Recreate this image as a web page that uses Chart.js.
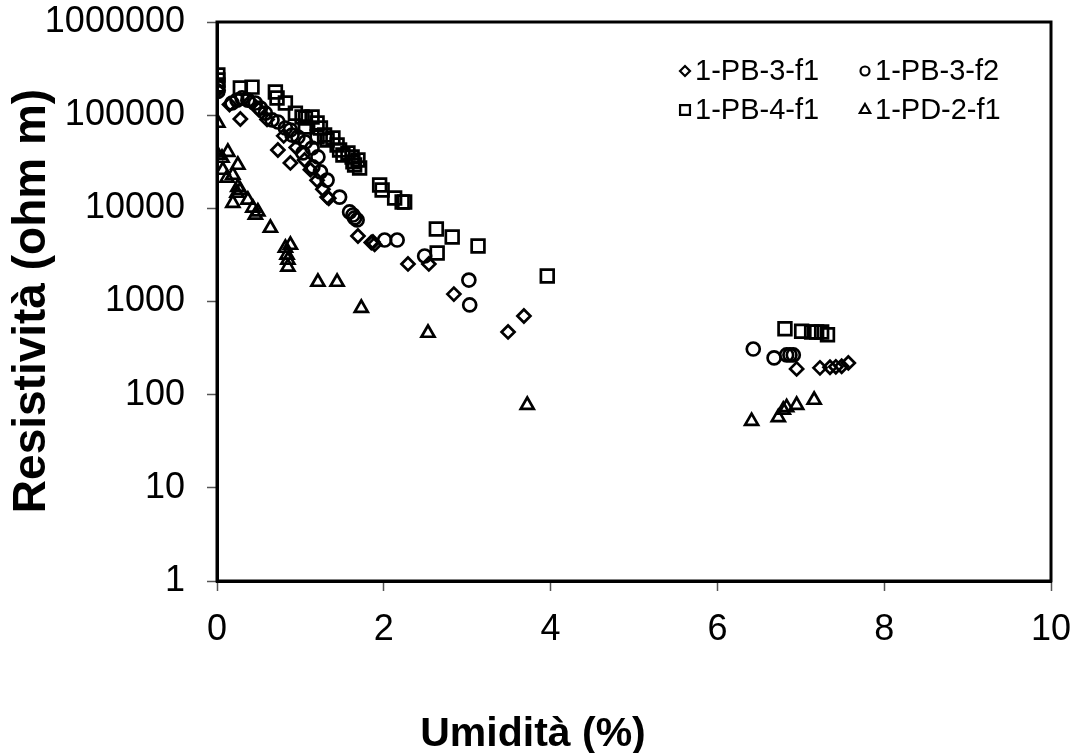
<!DOCTYPE html>
<html>
<head>
<meta charset="utf-8">
<script src="https://cdn.jsdelivr.net/npm/chart.js@4.4.1/dist/chart.umd.min.js"></script>
<style>
  html, body { margin: 0; background: #fff; }
</style>
</head>
<body>
<canvas id="chart" width="1077" height="753"></canvas>
<script>
const font = "'Liberation Sans', Arial, sans-serif";

const seriesNames = ["1-PB-3-f1", "1-PB-3-f2", "1-PB-4-f1", "1-PD-2-f1"];
const yTicks = [1, 10, 100, 1000, 10000, 100000, 1000000];
const xTicks = [0, 2, 4, 6, 8, 10];

// 1-PB-3-f1 (diamonds)
const pb3f1X = [0.01, 0.15, 0.28, 0.40, 0.50, 0.60, 0.73, 0.80, 0.88, 0.95, 1.05, 1.12, 1.20, 1.27, 1.32, 1.34,
  1.69, 1.85, 1.87, 1.89, 2.29, 2.54, 2.84, 3.49, 3.68, 6.95, 7.23, 7.35, 7.42, 7.49, 7.57];
const pb3f1Y = [185000, 130000, 91000, 140000, 115000, 90000, 42300, 60000, 30700, 45000, 33000, 26000, 20000, 16000, 13200, 12800,
  5050, 4300, 4350, 4100, 2530, 2530, 1200, 471, 699, 189, 194, 197, 199, 202, 219];

// 1-PB-3-f2 (circles)
const pb3f2X = [0.01, 0.01, 0.18, 0.24, 0.30, 0.37, 0.46, 0.52, 0.58, 0.66, 0.73, 0.82, 0.88, 0.90, 0.97, 1.06, 1.14, 1.21,
  1.03, 1.15, 1.24, 1.32, 1.47, 1.59, 1.63, 1.65, 1.68, 2.01, 2.16, 2.49, 3.02, 3.03, 6.43, 6.68, 6.83, 6.87, 6.91];
const pb3f2Y = [200000, 180000, 135000, 145000, 153000, 145000, 135000, 119000, 105000, 88800, 84500, 72800, 69300, 61200, 58300, 51500, 44400, 35600,
  39300, 27800, 24600, 20100, 13200, 9140, 8480, 7880, 7500, 4570, 4570, 3080, 1700, 918, 309, 248, 267, 267, 267];

// 1-PB-4-f1 (squares)
const pb4f1X = [0.01, 0.01, 0.01, 0.28, 0.42, 0.70, 0.72, 0.82, 0.94, 1.02, 1.06, 1.14, 1.06, 1.20, 1.24, 1.20, 1.29, 1.32,
  1.39, 1.44, 1.47, 1.51, 1.57, 1.62, 1.63, 1.69, 1.65, 1.71, 1.95, 1.98, 2.13, 2.22, 2.25, 2.63, 2.64, 2.82, 3.13, 3.96,
  6.81, 7.01, 7.13, 7.19, 7.25, 7.32];
const pb4f1Y = [270000, 238000, 211000, 196000, 200000, 177000, 153000, 135000, 105000, 95500, 93000, 95500, 74700, 82400, 72800, 58300, 61200, 54100,
  56900, 47800, 42300, 37400, 39300, 35600, 31500, 33000, 29200, 27100, 17800, 15700, 12900, 11700, 11700, 6000, 3320, 4930, 3940, 1880,
  510, 480, 470, 470, 470, 440];

// 1-PD-2-f1 (triangles)
const pd2f1X = [0.01, 0.01, 0.06, 0.13, 0.25, 0.07, 0.12, 0.19, 0.25, 0.28, 0.24, 0.19, 0.37, 0.43, 0.46, 0.49, 0.64,
  0.88, 0.82, 0.84, 0.85, 0.85, 1.21, 1.44, 1.73, 2.53, 3.72, 6.41, 6.73, 6.79, 6.83, 6.95, 7.16];
const pd2f1Y = [82400, 37400, 34700, 40200, 29200, 25800, 21200, 22800, 16900, 15700, 14600, 11400, 12300, 10100, 8500, 9200, 6150,
  4040, 3750, 3160, 2790, 2350, 1620, 1620, 851, 459, 77.4, 52, 57, 68.5, 73, 77.4, 87.7];

const pts = (xs, ys) => xs.map((x, i) => ({ x, y: ys[i] }));

const styles = [
  { pointStyle: "rectRot", radius: 6.5, legendRadius: 5 },
  { pointStyle: "circle", radius: 6.5, legendRadius: 4.5 },
  { pointStyle: "rect", radius: 9, legendRadius: 7 },
  { pointStyle: "triangle", radius: 7.5, legendRadius: 6 },
];
const allX = [pb3f1X, pb3f2X, pb4f1X, pd2f1X];
const allY = [pb3f1Y, pb3f2Y, pb4f1Y, pd2f1Y];

const datasets = seriesNames.map((name, i) => ({
  label: name,
  data: pts(allX[i], allY[i]),
  pointStyle: styles[i].pointStyle,
  pointRadius: styles[i].radius,
  pointHoverRadius: styles[i].radius,
  pointBorderWidth: 2.7,
  borderColor: "#000",
  backgroundColor: "rgba(0,0,0,0)",
  showLine: false,
}));

// frame (top/right sides), axis titles and in-plot legend
const decor = {
  id: "decor",
  beforeDatasetsDraw(chart) {
    const { ctx, chartArea: a } = chart;
    ctx.save();
    ctx.strokeStyle = "#000";
    ctx.lineWidth = 3;
    ctx.strokeRect(a.left, a.top, a.right - a.left, a.bottom - a.top);
    ctx.restore();
  },
  afterDraw(chart) {
    const { ctx } = chart;
    ctx.save();
    ctx.fillStyle = "#000";
    ctx.textAlign = "center";
    ctx.textBaseline = "middle";
    ctx.font = "bold 41px " + font;
    ctx.fillText("Umidità (%)", 533, 735);
    ctx.font = "bold 46px " + font;
    ctx.translate(32, 301);
    ctx.rotate(-Math.PI / 2);
    ctx.fillText("Resistività (ohm m)", 0, 0);
    ctx.restore();

    const cols = [685, 865];
    const rows = [71, 110];
    ctx.save();
    ctx.font = "29px " + font;
    ctx.textBaseline = "middle";
    ctx.textAlign = "left";
    seriesNames.forEach((name, i) => {
      const cx = cols[i % 2], cy = rows[Math.floor(i / 2)];
      ctx.strokeStyle = "#000";
      ctx.fillStyle = "rgba(0,0,0,0)";
      ctx.lineWidth = 2.2;
      Chart.helpers.drawPoint(ctx, { pointStyle: styles[i].pointStyle, radius: styles[i].legendRadius, borderWidth: 2.2 }, cx, cy);
      ctx.fillStyle = "#000";
      ctx.fillText(name, cx + 10, cy + 1);
    });
    ctx.restore();
  },
};

new Chart(document.getElementById("chart"), {
  type: "scatter",
  data: { datasets },
  plugins: [decor],
  options: {
    responsive: false,
    animation: false,
    layout: { padding: { top: 22, right: 26, left: 0, bottom: 0 } },
    plugins: { legend: { display: false }, tooltip: { enabled: false } },
    scales: {
      x: {
        type: "linear",
        min: 0,
        max: 10,
        afterBuildTicks: (s) => { s.ticks = xTicks.map((v) => ({ value: v })); },
        afterFit: (s) => { s.height = 172; s.paddingLeft = 0; s.paddingRight = 0; },
        ticks: { color: "#000", font: { family: font, size: 36 }, padding: 17, maxRotation: 0 },
        grid: { drawOnChartArea: false, drawTicks: true, tickLength: 10, tickColor: "#555", tickWidth: 1.5 },
        border: { display: true, color: "#000", width: 3 },
      },
      y: {
        type: "logarithmic",
        min: 1,
        max: 1000000,
        afterBuildTicks: (s) => { s.ticks = yTicks.map((v) => ({ value: v })); },
        afterFit: (s) => { s.width = 217; s.paddingTop = 0; s.paddingBottom = 0; },
        ticks: { color: "#000", font: { family: font, size: 36 }, padding: 22, callback: (v) => String(v) },
        grid: { drawOnChartArea: false, drawTicks: true, tickLength: 10, tickColor: "#555", tickWidth: 1.5 },
        border: { display: true, color: "#000", width: 3 },
      },
    },
  },
});
</script>
</body>
</html>
